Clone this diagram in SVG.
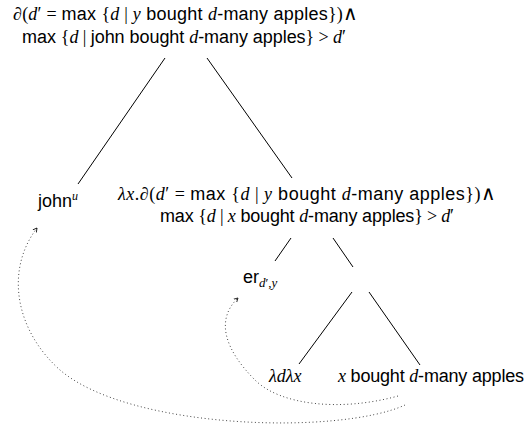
<svg xmlns="http://www.w3.org/2000/svg" width="526" height="430" viewBox="0 0 526 430">
<style>
text{font-family:"Liberation Sans",Arial,sans-serif;font-size:18px;fill:#000}
.m{font-family:"Liberation Serif","Times New Roman",serif;font-style:italic}
.r{font-family:"Liberation Serif","Times New Roman",serif}
.w{font-family:"DejaVu Sans",sans-serif;font-weight:200;font-size:20px}
.e{stroke:#000;stroke-width:1;fill:none}
.d{stroke:#444;stroke-width:1;fill:none;stroke-dasharray:1 2.6}
</style>
<defs>
<marker id="ah" markerWidth="6" markerHeight="6" refX="4" refY="3" orient="auto" markerUnits="userSpaceOnUse">
<path d="M0,0.8 L4,3 L0,5.2" fill="none" stroke="#000" stroke-width="0.8"/>
</marker>
</defs>
<g id="root">
<text x="13" y="20" textLength="345" lengthAdjust="spacing"><tspan class="m">∂</tspan><tspan class="r">(</tspan><tspan class="m">d</tspan><tspan class="r">′ = </tspan>max <tspan class="r">{</tspan><tspan class="m">d</tspan><tspan class="r"> | </tspan><tspan class="m">y</tspan> bought <tspan class="m">d</tspan>-many apples<tspan class="r">})</tspan><tspan class="w">∧</tspan></text>
<text x="22" y="43" textLength="324" lengthAdjust="spacing">max <tspan class="r">{</tspan><tspan class="m">d</tspan><tspan class="r"> | </tspan>john bought <tspan class="m">d</tspan>-many apples<tspan class="r">} &gt; </tspan><tspan class="m">d</tspan><tspan class="r">′</tspan></text>
</g>
<g id="john">
<text x="38" y="207">john<tspan class="m" font-size="12" dy="-7">u</tspan></text>
</g>
<g id="vp">
<text x="118" y="200" textLength="378" lengthAdjust="spacing"><tspan class="m">λx</tspan><tspan class="r">.</tspan><tspan class="m">∂</tspan><tspan class="r">(</tspan><tspan class="m">d</tspan><tspan class="r">′ = </tspan>max <tspan class="r">{</tspan><tspan class="m">d</tspan><tspan class="r"> | </tspan><tspan class="m">y</tspan> bought <tspan class="m">d</tspan>-many apples<tspan class="r">})</tspan><tspan class="w">∧</tspan></text>
<text x="160" y="222" textLength="294" lengthAdjust="spacing">max <tspan class="r">{</tspan><tspan class="m">d</tspan><tspan class="r"> | </tspan><tspan class="m">x</tspan> bought <tspan class="m">d</tspan>-many apples<tspan class="r">} &gt; </tspan><tspan class="m">d</tspan><tspan class="r">′</tspan></text>
</g>
<g id="er">
<text x="243" y="283">er<tspan class="m" font-size="13" dy="4">d</tspan><tspan class="r" font-size="13">′,</tspan><tspan class="m" font-size="13">y</tspan></text>
</g>
<g id="lam">
<text x="269" y="382" class="m" font-size="21">λdλx</text>
</g>
<g id="ip">
<text x="338" y="382" textLength="186" lengthAdjust="spacing"><tspan class="m">x</tspan> bought <tspan class="m">d</tspan>-many apples</text>
</g>
<g id="connectors">
<line class="e" x1="165" y1="58" x2="78" y2="184"/>
<line class="e" x1="207" y1="58" x2="292" y2="178"/>
<line class="e" x1="291" y1="238" x2="275" y2="261"/>
<line class="e" x1="333" y1="238" x2="353" y2="267"/>
<line class="e" x1="352" y1="292" x2="299" y2="364"/>
<line class="e" x1="369" y1="292" x2="420" y2="365"/>
<path class="d" d="M405,405 C340,435 130,430 60,370 C15,330 5,270 37,228" marker-end="url(#ah)"/>
<path class="d" d="M398,396 C340,412 280,405 255,380 C225,350 215,320 238,298" marker-end="url(#ah)"/>
</g>
</svg>
